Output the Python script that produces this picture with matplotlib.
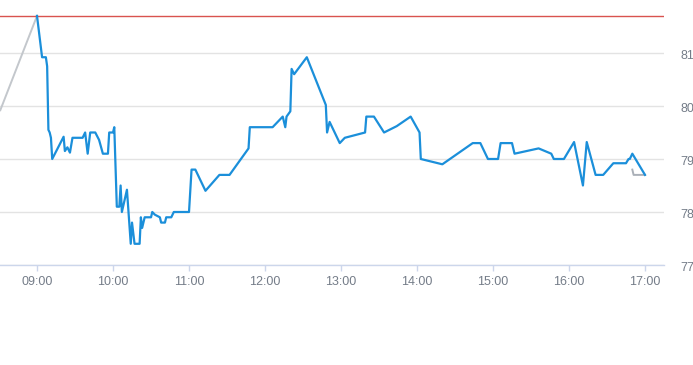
import matplotlib
matplotlib.use("Agg")
import matplotlib.pyplot as plt
import matplotlib.transforms as mtransforms
from matplotlib.ticker import FixedLocator

plt.rcParams['font.family'] = ['Liberation Sans Narrow', 'Liberation Sans', 'DejaVu Sans']

times = ["09:00", "09:04", "09:07", "09:08", "09:09", "09:10", "09:11", "09:12",
         "09:21", "09:22", "09:24", "09:26", "09:28", "09:36", "09:38", "09:40",
         "09:42", "09:46", "09:49", "09:52", "09:56", "09:57", "10:00", "10:01",
         "10:03", "10:05", "10:06", "10:07", "10:11", "10:14", "10:15", "10:17",
         "10:21", "10:22", "10:23", "10:25", "10:30", "10:31", "10:33", "10:37",
         "10:38", "10:41", "10:42", "10:46", "10:48", "11:00", "11:02", "11:05",
         "11:07", "11:13", "11:24", "11:32", "11:47", "11:48", "12:06", "12:14",
         "12:16", "12:17", "12:20", "12:21", "12:23", "12:33", "12:48", "12:49",
         "12:51", "12:59", "13:03", "13:19", "13:20", "13:26", "13:34", "13:44",
         "13:55", "14:02", "14:03", "14:20", "14:44", "14:50", "14:56", "15:04",
         "15:06", "15:15", "15:17", "15:36", "15:46", "15:48", "15:56", "16:04",
         "16:11", "16:14", "16:21", "16:27", "16:35", "16:45", "16:47", "16:48",
         "16:50", "17:00"]
prices = [81.70, 80.92, 80.92, 80.75, 79.55, 79.50, 79.40, 79.00,
          79.42, 79.15, 79.22, 79.12, 79.40, 79.40, 79.50, 79.10,
          79.50, 79.50, 79.36, 79.10, 79.10, 79.50, 79.50, 79.60,
          78.10, 78.10, 78.50, 78.00, 78.42, 77.40, 77.80, 77.40,
          77.40, 77.90, 77.70, 77.90, 77.90, 78.00, 77.95, 77.90,
          77.80, 77.80, 77.90, 77.90, 78.00, 78.00, 78.80, 78.80,
          78.70, 78.40, 78.70, 78.70, 79.20, 79.60, 79.60, 79.80,
          79.60, 79.80, 79.90, 80.70, 80.60, 80.92, 80.02, 79.50,
          79.70, 79.30, 79.40, 79.50, 79.80, 79.80, 79.50, 79.62,
          79.80, 79.50, 79.00, 78.90, 79.30, 79.30, 79.00, 79.00,
          79.30, 79.30, 79.10, 79.20, 79.10, 79.00, 79.00, 79.32,
          78.50, 79.32, 78.70, 78.70, 78.92, 78.92, 79.00, 79.00,
          79.10, 78.70]

pre_times = ["08:31", "09:00"]
pre_prices = [79.92, 81.70]
post_times = ["16:50", "16:51", "17:00"]
post_prices = [78.80, 78.70, 78.70]

ref_level = 81.70
y_ticks = [77, 78, 79, 80, 81]
x_tick_labels = ["09:00", "10:00", "11:00", "12:00", "13:00", "14:00", "15:00", "16:00", "17:00"]


def to_h(s):
    h, m = s.split(":")
    return int(h) + int(m) / 60.0


fig = plt.figure(figsize=(6.93, 3.65), dpi=100)
ax = fig.add_axes([0.0, 0.274, 664 / 693, 0.726])

ax.plot([to_h(t) for t in pre_times], pre_prices, color="#c3c7cc", lw=1.4, zorder=2)
ax.plot([to_h(t) for t in post_times], post_prices, color="#aab0b8", lw=1.4, zorder=2)
ax.plot([to_h(t) for t in times], prices, color="#1b8fda", lw=1.6, zorder=3,
        solid_joinstyle="round")
ax.axhline(ref_level, color="#d9534f", lw=1.0, zorder=2)

ax.set_xlim(8.513, 17.25)
ax.set_ylim(77, 82)

ax.yaxis.set_major_locator(FixedLocator(y_ticks))
ax.yaxis.tick_right()
ax.tick_params(axis="y", length=0, pad=12, labelsize=9, labelcolor="#747c88")
offset = mtransforms.ScaledTranslation(0, -2 / 100, fig.dpi_scale_trans)
for tick in ax.yaxis.get_major_ticks():
    tick.label2.set_transform(tick.label2.get_transform() + offset)
ax.grid(axis="y", color="#e3e3e3", lw=1.0)
ax.set_axisbelow(True)

xt = [to_h(t) for t in x_tick_labels]
ax.set_xticks(xt)
ax.set_xticklabels(x_tick_labels)
ax.tick_params(axis="x", length=4, width=1, color="#ccd6eb", pad=4,
               labelsize=9, labelcolor="#747c88")

for s in ["top", "left", "right"]:
    ax.spines[s].set_visible(False)
ax.spines["bottom"].set_color("#ccd6eb")
ax.spines["bottom"].set_linewidth(1.0)

fig.savefig("out.png", dpi=100)
